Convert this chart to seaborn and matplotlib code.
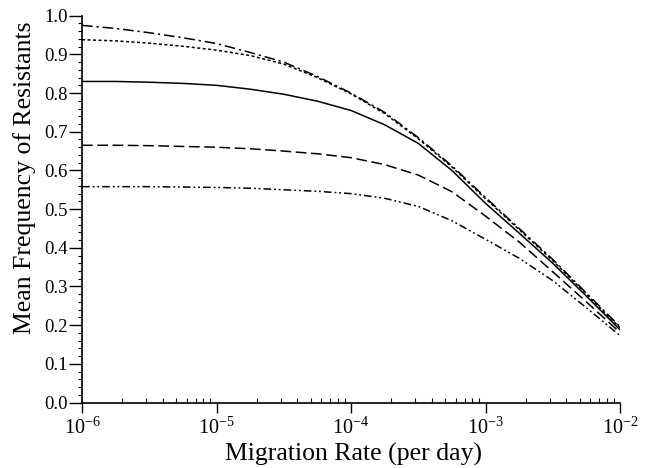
import numpy as np
import pandas as pd
import matplotlib
matplotlib.use("Agg")
import matplotlib.pyplot as plt
import matplotlib.ticker as mticker
import seaborn as sns

# ---- data (log10 of migration rate, mean frequency) ----
log_rate = [-6, -5.75, -5.5, -5.25, -5, -4.75, -4.5, -4.25, -4,
            -3.75, -3.5, -3.25, -3, -2.75, -2.5, -2.25, -2]
series_a = [0.975, 0.967, 0.956, 0.943, 0.928, 0.905, 0.880, 0.843, 0.800,
            0.750, 0.685, 0.612, 0.530, 0.450, 0.370, 0.283, 0.196]  # dash-dot
series_b = [0.938, 0.935, 0.929, 0.921, 0.911, 0.897, 0.875, 0.840, 0.798,
            0.747, 0.682, 0.609, 0.527, 0.447, 0.367, 0.280, 0.193]  # dotted
series_c = [0.830, 0.830, 0.828, 0.825, 0.820, 0.810, 0.797, 0.779, 0.755,
            0.718, 0.670, 0.600, 0.515, 0.438, 0.360, 0.275, 0.188]  # solid
series_d = [0.665, 0.665, 0.664, 0.662, 0.660, 0.656, 0.650, 0.643, 0.633,
            0.615, 0.588, 0.545, 0.482, 0.415, 0.338, 0.260, 0.181]  # dashed
series_e = [0.558, 0.558, 0.558, 0.557, 0.556, 0.554, 0.550, 0.546, 0.540,
            0.528, 0.507, 0.470, 0.422, 0.373, 0.315, 0.245, 0.173]  # dash-dot-dot
series_names = ["A", "B", "C", "D", "E"]
y_ticks = [0.0, 0.1, 0.2, 0.3, 0.4, 0.5, 0.6, 0.7, 0.8, 0.9, 1.0]
x_ticks_exp = [-6, -5, -4, -3, -2]

rate = 10.0 ** np.array(log_rate)
frames = []
for name, vals in zip(series_names, [series_a, series_b, series_c, series_d, series_e]):
    frames.append(pd.DataFrame({"rate": rate, "freq": vals, "series": name}))
df = pd.concat(frames, ignore_index=True)

sns.set_theme(style="white")
plt.rcParams["font.family"] = ["Liberation Serif", "DejaVu Serif"]
plt.rcParams["mathtext.fontset"] = "custom"
plt.rcParams["mathtext.rm"] = "Liberation Serif"
plt.rcParams["mathtext.it"] = "Liberation Serif:italic"

fig = plt.figure(figsize=(6.46, 4.68), dpi=100)
ax = fig.add_axes([82 / 646, 1 - 402.5 / 468, (620 - 82) / 646, (402.5 - 15.7) / 468])
ax.set_xscale("log")

dash_map = {
    "A": (7, 2.5, 1.5, 2.5),
    "B": (2, 1.6),
    "C": "",
    "D": (7, 3),
    "E": (5, 2, 1.2, 1.8, 1.2, 2),
}
sns.lineplot(data=df, x="rate", y="freq", style="series", dashes=dash_map,
             color="black", linewidth=1.1, legend=False, errorbar=None, ax=ax)

ax.set_xlim(1e-6, 1e-2)
ax.set_ylim(0, 1.0)

for s in ["top", "right"]:
    ax.spines[s].set_visible(False)
for s in ["left", "bottom"]:
    ax.spines[s].set_color("black")
    ax.spines[s].set_linewidth(1.2)

ax.set_yticks(y_ticks)
ax.set_yticklabels([f"{v:.1f}" for v in y_ticks])
ax.yaxis.set_minor_locator(mticker.MultipleLocator(0.02))
ax.set_xticks([10.0 ** e for e in x_ticks_exp])
ax.set_xticklabels([r"$\mathregular{10^{%d}}$" % e for e in x_ticks_exp])
ax.xaxis.set_minor_locator(mticker.LogLocator(base=10, subs=np.arange(2, 10)))
ax.xaxis.set_minor_formatter(mticker.NullFormatter())

ax.tick_params(axis="y", which="major", direction="out", length=9.5, width=1.0,
               labelsize=13.5, pad=1, color="black", left=True)
ax.tick_params(axis="y", which="minor", direction="out", length=3, width=0.8, color="black", left=True)
ax.tick_params(axis="x", which="major", direction="out", length=7, width=1.0,
               labelsize=14.5, pad=4, color="black", bottom=True)
ax.tick_params(axis="x", which="minor", direction="in", length=3.5, width=0.8, color="black", bottom=True)
ax.grid(False)

ax.set_xlabel("Migration Rate (per day)", fontsize=18.5, color="black")
ax.set_ylabel("Mean Frequency of Resistants", fontsize=18.5, color="black")
ax.xaxis.set_label_coords(0.505, -0.105)
ax.yaxis.set_label_coords(-0.086, 0.58)
for lab in ax.get_xticklabels() + ax.get_yticklabels():
    lab.set_color("black")

fig.savefig("out.png", dpi=100, facecolor="white")
